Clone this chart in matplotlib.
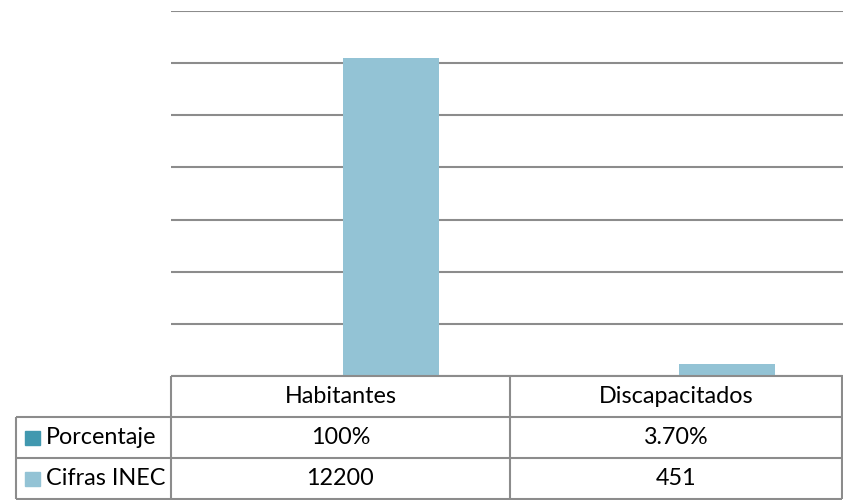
import matplotlib
matplotlib.use("Agg")
import matplotlib.pyplot as plt
from matplotlib.lines import Line2D
from matplotlib.patches import Rectangle

categories = ["Habitantes", "Discapacitados"]
series_names = ["Porcentaje", "Cifras INEC"]
porcentaje = [1.0, 0.037]
porcentaje_labels = ["100%", "3.70%"]
cifras = [12200, 451]
cifras_labels = ["12200", "451"]
colors = ["#4198AF", "#93C3D5"]

W, H = 843, 500
fig = plt.figure(figsize=(W / 100, H / 100), dpi=100)
FONT = "Lato"
FS = 16.8

def fx(px):
    return px / W

def fy(py):
    return 1 - py / H

left, right, top, bottom = 171, 843, 11, 376
ax = fig.add_axes([fx(left), fy(bottom), fx(right) - fx(left), fy(top) - fy(bottom)])
ax.set_xlim(-0.5, len(categories) - 0.5)
ax.set_ylim(0, 14000)
ax.set_yticks(range(0, 14001, 2000))
ax.yaxis.grid(True, color="#8c8c8c", linewidth=1.5)
ax.set_axisbelow(True)
for s in ax.spines.values():
    s.set_visible(False)
ax.tick_params(left=False, bottom=False, labelleft=False, labelbottom=False)

xs = range(len(categories))
bw = 0.285
off = 0.154
ax.bar([x - off for x in xs], porcentaje, width=bw, color=colors[0])
ax.bar([x + off for x in xs], cifras, width=bw, color=colors[1])

# data table
lc = "#8c8c8c"
lw = 1.5
row_y = [376, 417, 458, 499]
col_x = [171, 510, 842]
leg_left = 16

def line(x0, y0, x1, y1):
    fig.add_artist(Line2D([fx(x0), fx(x1)], [fy(y0), fy(y1)], color=lc, linewidth=lw,
                          solid_capstyle="butt"))

line(col_x[0], row_y[0], col_x[-1], row_y[0])
for yy in row_y[1:]:
    line(leg_left, yy, col_x[-1], yy)
for xx in col_x:
    line(xx, row_y[0], xx, row_y[-1])
line(leg_left, row_y[1], leg_left, row_y[-1])

for i, cat in enumerate(categories):
    cx = (col_x[i] + col_x[i + 1]) / 2
    fig.text(fx(cx), fy((row_y[0] + row_y[1]) / 2), cat, ha="center", va="center",
             fontsize=FS, family=FONT)
    fig.text(fx(cx), fy((row_y[1] + row_y[2]) / 2), porcentaje_labels[i], ha="center",
             va="center", fontsize=FS, family=FONT)
    fig.text(fx(cx), fy((row_y[2] + row_y[3]) / 2), cifras_labels[i], ha="center",
             va="center", fontsize=FS, family=FONT)

for j, name in enumerate(series_names):
    cy = (row_y[j + 1] + row_y[j + 2]) / 2
    fig.add_artist(Rectangle((fx(25), fy(cy + 7)), fx(15), 14 / H, color=colors[j],
                             transform=fig.transFigure))
    fig.text(fx(46), fy(cy), name, ha="left", va="center", fontsize=FS, family=FONT)

fig.savefig("out.png", dpi=100)
